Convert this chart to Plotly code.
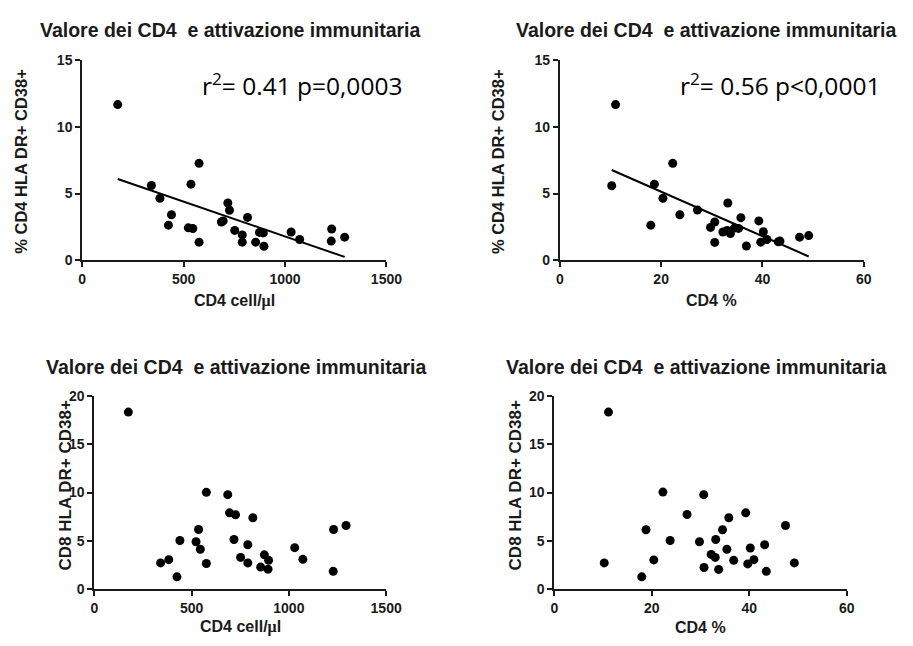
import numpy as np
import plotly.graph_objects as go

# ---- data ----
cd4_cells = [175, 341, 383, 425, 440, 523, 536, 545, 576, 576, 686, 695, 718, 726,
             752, 789, 789, 815, 855, 874, 893, 896, 1030, 1072, 1230, 1228, 1294]
cd4_act_by_cells = [11.66, 5.6, 4.65, 2.63, 3.41, 2.43, 5.70, 2.38, 7.26, 1.36, 2.87, 2.95, 4.29, 3.75,
                    2.24, 1.9, 1.36, 3.21, 1.36, 2.09, 2.05, 1.05, 2.12, 1.56, 2.34, 1.44, 1.73]
cd8_act_by_cells = [18.32, 2.72, 3.06, 1.28, 5.04, 4.91, 6.18, 4.13, 10.02, 2.66, 9.78, 7.9, 5.14, 7.70,
                    3.29, 4.6, 2.72, 7.39, 2.29, 3.56, 2.08, 2.99, 4.30, 3.09, 6.18, 1.85, 6.59]

cd4_pct_a = [11.0, 10.24, 18.67, 17.96, 20.35, 22.28, 23.69, 27.17, 29.75, 30.58, 30.58, 32.19, 33.03, 33.16,
             33.67, 34.45, 35.28, 35.74, 36.83, 39.28, 39.66, 40.18, 40.89, 43.14, 43.46, 47.33, 49.13]
cd4_act_by_pct = [11.66, 5.58, 5.70, 2.63, 4.65, 7.26, 3.41, 3.77, 2.46, 2.87, 1.34, 2.12, 2.24, 4.29,
                  2.0, 2.41, 2.39, 3.19, 1.07, 2.95, 1.36, 2.14, 1.56, 1.39, 1.44, 1.73, 1.85]

cd4_pct_b = [11.1, 10.23, 17.93, 18.8, 20.4, 22.27, 23.75, 27.22, 29.77, 30.64, 30.70, 32.17, 33.0, 33.1,
             33.70, 34.5, 35.39, 35.79, 36.79, 39.26, 39.67, 40.2, 40.94, 43.14, 43.48, 47.42, 49.23]
cd8_act_by_pct = [18.32, 2.72, 1.28, 6.15, 3.03, 10.05, 5.04, 7.73, 4.91, 9.78, 2.25, 3.6, 3.29, 5.14,
                  2.05, 6.15, 4.13, 7.39, 2.99, 7.9, 2.62, 4.27, 3.06, 4.6, 1.85, 6.59, 2.72]

# tick values / labels
ticks_cells = [0, 500, 1000, 1500]
ticks_pct = [0, 20, 40, 60]
ticks_y15 = [0, 5, 10, 15]
ticks_y20 = [0, 5, 10, 15, 20]

title_text = "Valore dei CD4  e attivazione immunitaria"
MU = "<span style='font-family:Liberation Serif, serif'>μ</span>"
xtitles = ["CD4 cell/" + MU + "l", "CD4 %", "CD4 cell/" + MU + "l", "CD4 %"]
ytitles = ["% CD4 HLA DR+ CD38+", "% CD4 HLA DR+ CD38+", "CD8 HLA DR+ CD38+", "CD8 HLA DR+ CD38+"]
stats_text = ["r<sup>2</sup>= 0.41 p=0,0003", "r<sup>2</sup>= 0.56 p<0,0001"]

W, H = 913, 646
INK = "#1a1a1a"
FONT = "Liberation Sans, Arial, sans-serif"

def px(x):
    return x / W

def py(y):
    return (H - y) / H

def bold(vals):
    return ["<b>%g</b>" % v for v in vals]

# panel geometry in pixels: (left, right, top, bottom)
panels = [
    (80, 391, 53.3, 258.7),
    (568.3, 879, 53.3, 258.7),
    (92.3, 390.7, 397.7, 596),
    (562.7, 861.7, 397.7, 596),
]
xranges = [[0, 1500], [0, 60], [0, 1500], [0, 60]]
yranges = [[0, 15], [0, 15], [0, 20], [0, 20]]
xticks = [ticks_cells, ticks_pct, ticks_cells, ticks_pct]
yticks = [ticks_y15, ticks_y15, ticks_y20, ticks_y20]
title_pos = [(231.7, 22.7), (718, 22.7), (237.7, 368), (708, 368)]
ytitle_x = [17, 505, 63, 523]
ytitle_cy = [157, 157, 490, 490]
ytitle_size = [16.5, 16.5, 17, 17]
xtitle_y = [300, 300, 635, 635]

series = [
    (cd4_cells, cd4_act_by_cells, True),
    (cd4_pct_a, cd4_act_by_pct, True),
    (cd4_cells, cd8_act_by_cells, False),
    (cd4_pct_b, cd8_act_by_pct, False),
]

fig = go.Figure()
annotations = []
layout = {}
for i, ((l, r, t, b), (xs, ys, fit)) in enumerate(zip(panels, series)):
    n = "" if i == 0 else str(i + 1)
    xa, ya = "x" + n, "y" + n
    fig.add_trace(go.Scatter(x=xs, y=ys, mode="markers", xaxis=xa, yaxis=ya,
                             marker=dict(color="black", size=9), showlegend=False,
                             cliponaxis=False))
    if fit:
        k, c = np.polyfit(xs, ys, 1)
        lx = np.array([min(xs), max(xs)])
        fig.add_trace(go.Scatter(x=lx, y=k * lx + c, mode="lines", xaxis=xa, yaxis=ya,
                                 line=dict(color="black", width=2), showlegend=False))
    axis_common = dict(showline=True, linecolor=INK, linewidth=2, ticks="outside",
                       ticklen=5, tickwidth=2, tickcolor=INK, showgrid=False, zeroline=False,
                       tickfont=dict(family=FONT, size=14, color=INK))
    layout["xaxis" + n] = dict(domain=[px(l), px(r)], range=xranges[i], tickmode="array",
                               tickvals=xticks[i], ticktext=bold(xticks[i]),
                               anchor=ya, **axis_common)
    layout["yaxis" + n] = dict(domain=[py(b), py(t)], range=yranges[i], tickmode="array",
                               tickvals=yticks[i], ticktext=bold(yticks[i]),
                               anchor=xa, **axis_common)
    tx, ty = title_pos[i]
    annotations.append(dict(text="<b>" + title_text + "</b>", x=px(tx), y=py(ty), xref="paper",
                            yref="paper", showarrow=False, xanchor="center", yanchor="middle",
                            font=dict(family=FONT, size=19.5, color=INK)))
    annotations.append(dict(text="<b>" + xtitles[i] + "</b>", x=px((l + r) / 2), y=py(xtitle_y[i]),
                            xref="paper", yref="paper", showarrow=False, xanchor="center",
                            yanchor="middle", font=dict(family=FONT, size=16, color=INK)))
    annotations.append(dict(text="<b>" + ytitles[i] + "</b>", x=px(ytitle_x[i]), y=py(ytitle_cy[i]),
                            xref="paper", yref="paper", showarrow=False, xanchor="center",
                            yanchor="middle", textangle=-90,
                            font=dict(family=FONT, size=ytitle_size[i], color=INK)))

for i, sx in enumerate([305, 793]):
    annotations.append(dict(text=stats_text[i], x=px(sx), y=py(78), xref="paper", yref="paper",
                            showarrow=False, xanchor="center", yanchor="middle",
                            font=dict(family="Open Sans, sans-serif", size=24.5, color="black")))

fig.update_layout(width=W, height=H, margin=dict(l=0, r=0, t=0, b=0),
                  paper_bgcolor="white", plot_bgcolor="white",
                  annotations=annotations, **layout)
fig.write_html("out.html")
